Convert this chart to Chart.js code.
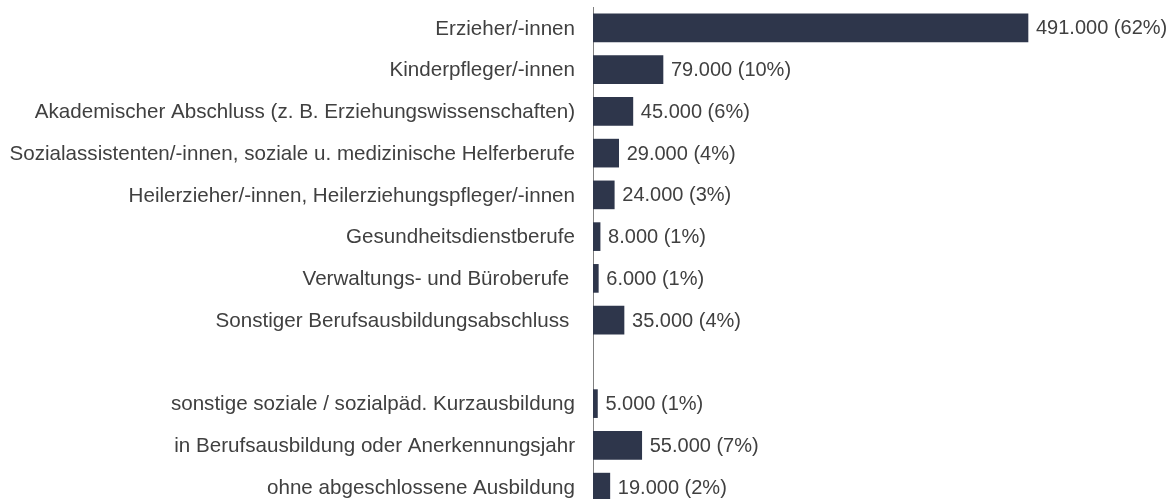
<!DOCTYPE html>
<html><head><meta charset="utf-8">
<script src="https://cdn.jsdelivr.net/npm/chart.js@4/dist/chart.umd.min.js"></script>
<style>html,body{margin:0;padding:0;overflow:hidden;background:#fff;width:1174px;height:499px}canvas{display:block}</style>
</head><body><canvas id="c" width="1174" height="508"></canvas>
<script>
const categories = [
  "Erzieher/-innen",
  "Kinderpfleger/-innen",
  "Akademischer Abschluss (z. B. Erziehungswissenschaften)",
  "Sozialassistenten/-innen, soziale u. medizinische Helferberufe",
  "Heilerzieher/-innen, Heilerziehungspfleger/-innen",
  "Gesundheitsdienstberufe",
  "Verwaltungs- und Büroberufe ",
  "Sonstiger Berufsausbildungsabschluss ",
  "",
  "sonstige soziale / sozialpäd. Kurzausbildung",
  "in Berufsausbildung oder Anerkennungsjahr",
  "ohne abgeschlossene Ausbildung"
];
const values = [491000, 79000, 45000, 29000, 24000, 8000, 6000, 35000, null, 5000, 55000, 19000];
const shares = ["62%", "10%", "6%", "4%", "3%", "1%", "1%", "4%", null, "1%", "7%", "2%"];

const FONT = "Arial, 'Liberation Sans', sans-serif";
const TXT = "#404040";

const valueLabels = {
  id: 'valueLabels',
  afterDatasetsDraw(chart) {
    const ctx = chart.ctx;
    const meta = chart.getDatasetMeta(0);
    ctx.save();
    ctx.font = "20px " + FONT;
    ctx.fillStyle = TXT;
    ctx.textBaseline = "middle";
    ctx.textAlign = "left";
    meta.data.forEach((bar, i) => {
      if (values[i] == null) return;
      const txt = values[i].toLocaleString('de-DE') + " (" + shares[i] + ")";
      ctx.fillText(txt, bar.x + 8, bar.y + 1);
    });
    ctx.restore();
  }
};

new Chart(document.getElementById('c'), {
  type: 'bar',
  data: {
    labels: categories,
    datasets: [{
      data: values,
      backgroundColor: '#2e364b',
      borderWidth: 0,
      barThickness: 28
    }]
  },
  options: {
    indexAxis: 'y',
    responsive: false,
    animation: false,
    layout: { padding: { top: 7, right: 0, bottom: 0, left: 0 } },
    plugins: { legend: { display: false }, tooltip: { enabled: false } },
    scales: {
      x: { display: false, min: 0, max: 655800 },
      y: {
        grid: { display: false, drawTicks: false },
        border: { display: true, color: '#808080', width: 1 },
        ticks: { color: TXT, font: { family: FONT, size: 20.6 }, padding: 18, labelOffset: 1 },
        afterFit(scale) { scale.width = 593; scale.paddingTop = 0; scale.paddingBottom = 0; }
      }
    }
  },
  plugins: [valueLabels]
});
</script>
</body></html>
